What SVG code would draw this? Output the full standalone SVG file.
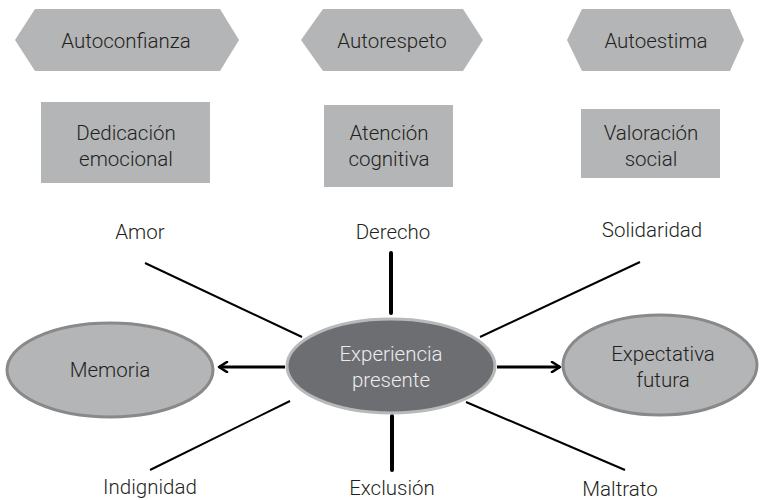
<svg xmlns="http://www.w3.org/2000/svg" width="764" height="500" viewBox="0 0 764 500">
<style>
text{font-family:Roboto,"Liberation Sans",sans-serif;font-weight:300;font-size:20.5px;fill:#231f20;text-anchor:middle}
.shape{fill:#b4b5b7}
.side{fill:#b4b5b7;stroke:#898989;stroke-width:3}
.center{fill:#6d6e71;stroke:#b8b9bb;stroke-width:3}
.light{fill:#ececec}
.thin{stroke:#000;stroke-width:2;fill:none}
.thick{stroke:#000;stroke-width:4;fill:none;stroke-linecap:round}
.arrow{stroke:#000;stroke-width:3;fill:none}
</style>
<defs>
<marker id="ah" viewBox="0 0 12 12" refX="10" refY="6" markerWidth="12" markerHeight="12" markerUnits="userSpaceOnUse" orient="auto">
<path d="M2,1 L10,6 L2,11" fill="none" stroke="#000" stroke-width="2.6" stroke-linecap="round" stroke-linejoin="round"/>
</marker>
</defs>
<rect width="764" height="500" fill="#fff"/>
<g id="connectors">
<line class="thin" x1="145" y1="263" x2="302" y2="337"/>
<line class="thick" x1="391" y1="253" x2="391" y2="313"/>
<line class="thin" x1="640" y1="262" x2="480" y2="337"/>
<line class="thin" x1="150" y1="470" x2="290" y2="401"/>
<line class="thick" x1="392" y1="416" x2="392" y2="470"/>
<line class="thin" x1="466" y1="402" x2="625" y2="470"/>
<line class="arrow" x1="285" y1="367" x2="219" y2="367" marker-end="url(#ah)"/>
<line class="arrow" x1="497" y1="367" x2="560" y2="367" marker-end="url(#ah)"/>
</g>
<g id="autoconfianza">
<polygon class="shape" points="15,40 35,9 220,9 239,40 220,71 35,71"/>
<text x="126" y="48">Autoconfianza</text>
</g>
<g id="autorespeto">
<polygon class="shape" points="301,40 323,9 463,9 483,40 463,71 323,71"/>
<text x="392" y="48">Autorespeto</text>
</g>
<g id="autoestima">
<polygon class="shape" points="567,40 582,9 730,9 744,40 730,71 582,71"/>
<text x="656" y="48">Autoestima</text>
</g>
<g id="dedicacion">
<rect class="shape" x="41" y="102" width="169" height="81"/>
<text x="126" y="140">Dedicación</text>
<text x="126" y="166">emocional</text>
</g>
<g id="atencion">
<rect class="shape" x="324" y="105" width="129" height="82"/>
<text x="389" y="140">Atención</text>
<text x="389" y="166">cognitiva</text>
</g>
<g id="valoracion">
<rect class="shape" x="581" y="109" width="139" height="69"/>
<text x="651" y="140">Valoración</text>
<text x="651" y="166">social</text>
</g>
<g id="amor"><text x="140" y="239">Amor</text></g>
<g id="derecho"><text x="393" y="239">Derecho</text></g>
<g id="solidaridad"><text x="652" y="237">Solidaridad</text></g>
<g id="indignidad"><text x="150" y="494">Indignidad</text></g>
<g id="exclusion"><text x="392" y="495">Exclusión</text></g>
<g id="maltrato"><text x="620" y="496">Maltrato</text></g>
<g id="memoria">
<ellipse class="side" cx="110" cy="370" rx="103" ry="47"/>
<text x="110" y="377">Memoria</text>
</g>
<g id="experiencia">
<ellipse class="center" cx="391" cy="366" rx="104" ry="47"/>
<text class="light" x="391" y="361">Experiencia</text>
<text class="light" x="391" y="387">presente</text>
</g>
<g id="expectativa">
<ellipse class="side" cx="660" cy="365" rx="97" ry="50"/>
<text x="663" y="361">Expectativa</text>
<text x="663" y="387">futura</text>
</g>
</svg>
